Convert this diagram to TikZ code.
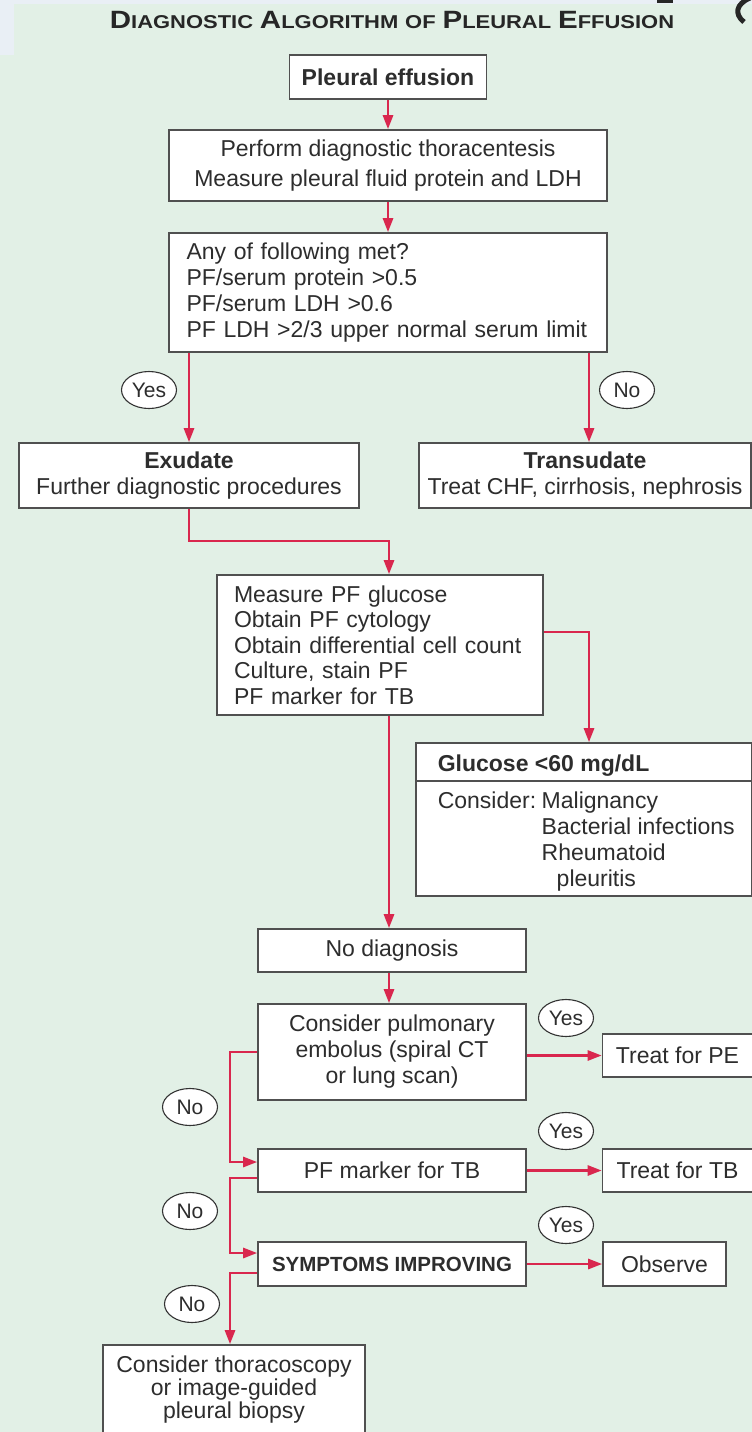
\documentclass[tikz,border=0pt]{standalone}
\usepackage{fontspec}
\setmainfont{Liberation Sans}
\newfontfamily\titlefont[FakeStretch=1.18]{Liberation Sans}
\usetikzlibrary{arrows.meta,shapes.geometric}
\definecolor{bggreen}{RGB}{226,240,230}
\definecolor{stripblue}{RGB}{233,239,245}
\definecolor{flowred}{RGB}{217,39,78}
\definecolor{boxgray}{RGB}{80,80,80}
\definecolor{txtgray}{RGB}{45,45,45}
\newcommand{\capsc}[2]{{\fontsize{25}{25}\selectfont #1}{\fontsize{18.6}{18.6}\selectfont #2}}

\begin{document}
\begin{tikzpicture}[x=1pt,y=-1pt,
  box/.style={draw=boxgray,fill=white,line width=1.6pt,inner sep=0pt,text=txtgray,
    font=\fontsize{23}{26}\selectfont,align=center},
  flow/.style={draw=flowred,line width=2.6pt,-{Triangle[length=14pt,width=10pt]}},
  tag/.style={ellipse,draw=black!80,fill=white,line width=1.1pt,inner sep=0pt,
    minimum width=55pt,minimum height=37pt,text=txtgray,font=\fontsize{21}{21}\selectfont}]
\useasboundingbox (0,0) rectangle (752,1432);
% background and screen edge
\fill[bggreen] (0,0) rectangle (752,1432);
\fill[stripblue] (0,0) rectangle (752,4);
\fill[stripblue] (0,0) rectangle (14,55);
\fill[black!85] (657,0) rectangle (673,3);
\draw[black!85,line width=5pt] (750,-2) .. controls (736,4) and (734,14) .. (744,22);

\node[anchor=base,text=black!85,font=\titlefont\bfseries\fontsize{21}{21}\selectfont] (title) at (392,28)
  {\capsc{D}{IAGNOSTIC} \capsc{A}{LGORITHM} {\fontsize{18.6}{18.6}\selectfont OF} \capsc{P}{LEURAL} \capsc{E}{FFUSION}};

% main column
\node[box,minimum width=197pt,minimum height=44pt,font=\bfseries\fontsize{23}{26}\selectfont] (pe) at (388,77) {Pleural effusion};
\node[box,minimum width=438pt,minimum height=71pt,font=\fontsize{23}{30}\selectfont] (tap) at (388,165.5)
  {Perform diagnostic thoracentesis\\Measure pleural fluid protein and LDH};
\node[box,minimum width=438pt,minimum height=119pt,text width=403pt,inner xsep=17.5pt,align=left] (crit) at (388,292.5)
  {Any of following met?\\PF/serum protein >0.5\\PF/serum LDH >0.6\\PF LDH >2/3 upper normal serum limit};
\node[box,minimum width=340pt,minimum height=65pt] (exu) at (189,475.5) {\textbf{Exudate}\\Further diagnostic procedures};
\node[box,minimum width=332pt,minimum height=65pt] (tra) at (585,475.5) {\textbf{Transudate}\\Treat CHF, cirrhosis, nephrosis};
\node[box,minimum width=326pt,minimum height=140pt,text width=292pt,inner xsep=17pt,align=left,
  font=\fontsize{23}{25.5}\selectfont] (tests) at (380,645)
  {Measure PF glucose\\Obtain PF cytology\\Obtain differential cell count\\Culture, stain PF\\PF marker for TB};

% glucose box
\node[box,minimum width=336pt,minimum height=153pt] (glu) at (584,819.5) {};
\coordinate (gluline) at (0,781);
\draw[boxgray,line width=1.6pt] (glu.west |- gluline) -- (glu.east |- gluline);
\node[anchor=base west,inner sep=0pt,text=txtgray,font=\bfseries\fontsize{23}{26}\selectfont] (gluhead) at (437.6,771)
  {Glucose <60 mg/dL};
\node[anchor=base west,inner sep=0pt,text=txtgray,font=\fontsize{23}{26}\selectfont] (glubody) at (437.6,808)
  {\begin{tabular}[t]{@{}l@{\hspace{5.5pt}}l@{}}Consider: & Malignancy\\ & Bacterial infections\\ & Rheumatoid\\ & \hspace{15pt}pleuritis\end{tabular}};

\node[box,minimum width=268pt,minimum height=43pt] (nodx) at (392,950.5) {No diagnosis};
\node[box,minimum width=268pt,minimum height=96pt] (pulm) at (392,1052)
  {Consider pulmonary\\embolus (spiral CT\\or lung scan)};
\node[box,minimum width=268pt,minimum height=43pt] (pfm) at (392,1170.5) {PF marker for TB};
\node[box,minimum width=268pt,minimum height=44pt,font=\bfseries\fontsize{20.5}{24}\selectfont] (sym) at (392,1264) {SYMPTOMS IMPROVING};
\node[box,minimum width=262pt,minimum height=89pt,font=\fontsize{23}{23}\selectfont] (tho) at (234,1389.5)
  {Consider thoracoscopy\\or image-guided\\pleural biopsy};

% right column
\node[box,minimum width=150pt,minimum height=43pt] (tpe) at (677.5,1055.5) {Treat for PE};
\node[box,minimum width=150pt,minimum height=43pt] (ttb) at (677.5,1170.5) {Treat for TB};
\node[box,minimum width=123pt,minimum height=44pt] (obs) at (664.5,1264) {Observe};

% yes / no tags
\node[tag] (yes1) at (149,390) {Yes};
\node[tag] (no1) at (627,390) {No};
\node[tag] (yes2) at (566,1018) {Yes};
\node[tag] (yes3) at (566,1131) {Yes};
\node[tag] (yes4) at (566,1225) {Yes};
\node[tag] (no2) at (190,1107) {No};
\node[tag] (no3) at (190,1211) {No};
\node[tag] (no4) at (192,1304) {No};

% connectors
\coordinate (spine) at (389,0);
\coordinate (noline) at (589,0);
\coordinate (nocol) at (230,0);
\coordinate (pfmin) at ([yshift=8.5pt]pfm.west);
\coordinate (pfmout) at ([yshift=-7.5pt]pfm.west);
\coordinate (symin) at ([yshift=11pt]sym.west);
\coordinate (symout) at ([yshift=-9pt]sym.west);
\coordinate (testsout) at ([yshift=13pt]tests.east);

\draw[flow] (pe) -- (tap);
\draw[flow] (tap) -- (crit);
\draw[flow] (crit.south -| exu.north) -- (exu.north);
\draw[flow] (crit.south -| noline) -- (tra.north -| noline);
\draw[flow] (exu.south) -- ++(0,32) -| (tests.north -| spine);
\draw[flow] (testsout) -| (glu.north -| noline);
\draw[flow] (tests.south -| spine) -- (nodx.north -| spine);
\draw[flow] (nodx.south -| spine) -- (pulm.north -| spine);
\draw[flow] (pulm.east |- tpe.west) -- (tpe.west);
\draw[flow] (pfm) -- (ttb);
\draw[flow] (sym) -- (obs);
\draw[flow] (pulm.west) -| (pfmin -| nocol) -- (pfmin);
\draw[flow] (pfmout) -| (symin -| nocol) -- (symin);
\draw[flow] (symout) -| (tho.north -| nocol);
\end{tikzpicture}
\end{document}
